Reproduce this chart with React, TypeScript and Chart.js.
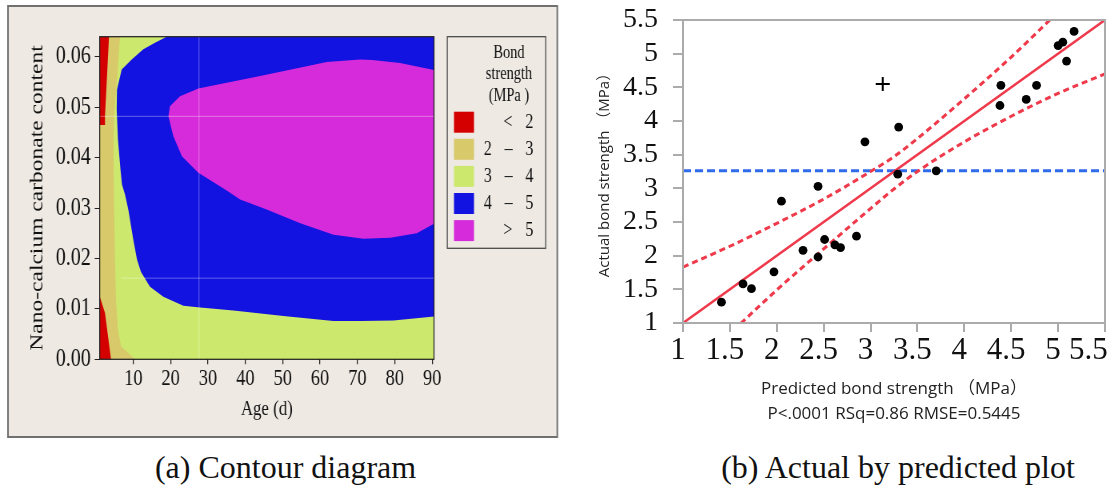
import { useEffect, useRef } from 'react';
import { Chart, registerables } from 'chart.js';

Chart.register(...registerables);

const SERIF = "'Liberation Serif', 'Times New Roman', Times, serif";
const SANS = "'Open Sans', 'Noto Sans CJK SC', sans-serif";

// ---------------- (a) Contour diagram data ----------------
const ageTicks = [10, 20, 30, 40, 50, 60, 70, 80, 90];
const contentTicks = [0, 0.01, 0.02, 0.03, 0.04, 0.05, 0.06];
const ageMin = 1;
const ageMax = 90.5;
const contentMin = 0;
const contentMax = 0.064;

const legendTitle = ['Bond', 'strength', '(MPa )'];
const legendLabels = ['< 2', '2 – 3', '3 – 4', '4 – 5', '> 5'];
const legendColors = ['#D40000', '#D8C96B', '#CDE96D', '#1212E1', '#D62BDA'];

// region outlines as [age (d), nano-CaCO3 content]
const region3to4 = [[1, 0], [90.5, 0], [90.5, 0.064], [1, 0.064]];
const region2to3 = [
  [1, 0.064], [6.44, 0.064], [5.63, 0.0555], [4.83, 0.0482], [4.7, 0.0396], [4.83, 0.0317],
  [5.1, 0.0198], [5.37, 0.0118], [5.9, 0.0058], [6.71, 0.0026], [8.58, 0.0013], [10.46, 0], [1, 0],
];
const regionBelow2Top = [[1, 0.064], [3.49, 0.064], [2.42, 0.0482], [2.42, 0.0465], [1, 0.0465]];
const regionBelow2Bottom = [[1, 0.0125], [2.42, 0.0092], [4.03, 0], [1, 0]];
const region4to5 = [
  [18.95, 0.064], [15.81, 0.0628], [12.68, 0.0615], [9.57, 0.0595], [6.89, 0.0575], [5.63, 0.0535],
  [5.55, 0.0496], [5.9, 0.0435], [6.57, 0.0376], [6.97, 0.0347], [7.78, 0.0327], [8.66, 0.0297],
  [10.0, 0.0237], [10.99, 0.0198], [12.06, 0.0173], [14.47, 0.0144], [18.04, 0.0124], [23.4, 0.0106],
  [27.9, 0.0103], [36.8, 0.0097], [50.2, 0.0086], [63.6, 0.0076], [70.7, 0.0076], [79.6, 0.0077],
  [90.5, 0.0085], [90.5, 0.064],
];
const regionAbove5 = [
  [90.5, 0.0574], [81.4, 0.0588], [74, 0.0594], [70.7, 0.0595], [61.8, 0.059], [44.6, 0.0563],
  [27.4, 0.0537], [22.5, 0.0522], [19.8, 0.0502], [19.4, 0.0482], [20.7, 0.0443], [23.0, 0.0403],
  [27.4, 0.037], [35.0, 0.0335], [38.6, 0.0317], [45.7, 0.0297], [54.7, 0.027], [63.6, 0.0247],
  [71.6, 0.0239], [78.8, 0.0241], [85.9, 0.025], [90.5, 0.0269],
];
const crossLineV = [[27.6, 0], [27.6, 0.064]];
const crossLineH1 = [[1, 0.0482], [90.5, 0.0482]];
const crossLineH2 = [[6.7, 0.0161], [90.5, 0.0161]];

// ---------------- (b) Actual by predicted data ----------------
const predicted = [1.41, 1.64, 1.73, 1.97, 2.05, 2.28, 2.44, 2.44, 2.51, 2.62, 2.68, 2.85, 2.94, 3.29, 3.3, 3.7, 4.38, 4.39, 4.66, 4.77, 5.0, 5.05, 5.09, 5.17];
const actual = [1.31, 1.58, 1.51, 1.76, 2.81, 2.08, 3.03, 1.98, 2.24, 2.16, 2.12, 2.29, 3.69, 3.21, 3.91, 3.26, 4.23, 4.53, 4.32, 4.53, 5.12, 5.17, 4.89, 5.33];
const excludedPredicted = [3.13];
const excludedActual = [4.55];
const fitX = [1, 5.5];
const fitY = [1, 5.5];
const bandX = [1.0, 1.5, 2.0, 2.5, 3.0, 3.25, 3.5, 4.0, 4.5, 5.0, 5.5];
const upperBand = [1.83, 2.14, 2.48, 2.84, 3.25, 3.47, 3.74, 4.33, 4.95, 5.62, 6.3];
const lowerBand = [0.17, 0.84, 1.49, 2.1, 2.7, 2.99, 3.25, 3.69, 4.07, 4.41, 4.7];
const meanX = [1, 5.5];
const meanActual = [3.26, 3.26];
const strengthTicks = [1, 1.5, 2, 2.5, 3, 3.5, 4, 4.5, 5, 5.5];

const toXY = (pts: number[][]) => pts.map(([x, y]) => ({ x, y }));
const zipXY = (xs: number[], ys: number[]) => xs.map((x, i) => ({ x, y: ys[i] }));

const K = 0.8; // horizontal compression of panel (a)
const LEFT_W = 700;
const H = 440;

function ContourChart() {
  const ref = useRef<HTMLCanvasElement>(null);
  useEffect(() => {
    const canvas = ref.current;
    if (!canvas) return;
    const P = (px: number) => px / K;

    const region = (pts: number[][], color: string, order: number) => ({
      data: toXY(pts),
      backgroundColor: color,
      borderColor: 'rgba(0,0,0,0)',
      borderWidth: 0,
      fill: 'shape',
      pointRadius: 0,
      tension: 0,
      order,
    });
    const faint = (pts: number[][]) => ({
      data: toXY(pts),
      borderColor: 'rgba(255,255,255,0.35)',
      borderWidth: 1,
      fill: false,
      pointRadius: 0,
      order: 0,
    });

    const panelPlugin = {
      id: 'panelA',
      beforeDraw(chart: any) {
        const ctx = chart.ctx;
        ctx.save();
        ctx.fillStyle = '#EEE9E3';
        ctx.fillRect(P(8), 6, P(557.3) - P(8), 431);
        ctx.strokeStyle = '#707070';
        ctx.lineWidth = 2;
        ctx.strokeRect(P(8), 6, P(557.3) - P(8), 431);
        ctx.restore();
      },
      afterDatasetsDraw(chart: any) {
        const { left, top, right, bottom } = chart.chartArea;
        const ctx = chart.ctx;
        ctx.save();
        ctx.strokeStyle = '#222';
        ctx.lineWidth = 1.25;
        ctx.strokeRect(left, top, right - left, bottom - top);
        ctx.restore();
      },
      afterDraw(chart: any) {
        const ctx = chart.ctx;
        ctx.save();
        const x0 = P(447.3);
        const x1 = P(545.7);
        ctx.strokeStyle = '#444';
        ctx.lineWidth = 1.25;
        ctx.strokeRect(x0, 36.7, x1 - x0, 248.3 - 36.7);
        ctx.fillStyle = '#111';
        ctx.font = `18px ${SERIF}`;
        ctx.textAlign = 'center';
        ctx.textBaseline = 'middle';
        const titleY = [53, 74, 96];
        legendTitle.forEach((t, i) => ctx.fillText(t, P(509), titleY[i]));
        ctx.textAlign = 'right';
        ctx.font = `20px ${SERIF}`;
        (ctx as any).letterSpacing = '5.5px';
        legendLabels.forEach((t, i) => {
          const y = 111.7 + i * 27.1;
          ctx.fillStyle = legendColors[i];
          ctx.fillRect(P(454), y, P(474) - P(454), 21);
          ctx.fillStyle = '#111';
          ctx.fillText(t, P(533.3) + 5.5, y + 11);
        });
        ctx.restore();
      },
    };

    const chart = new Chart(canvas, {
      type: 'line',
      data: {
        datasets: [
          region(region3to4, legendColors[2], 6),
          region(region2to3, legendColors[1], 5),
          region(regionBelow2Top, legendColors[0], 4),
          region(regionBelow2Bottom, legendColors[0], 4),
          region(region4to5, legendColors[3], 3),
          region(regionAbove5, legendColors[4], 2),
          faint(crossLineV),
          faint(crossLineH1),
          faint(crossLineH2),
        ] as any,
      },
      options: {
        animation: false,
        responsive: false,
        maintainAspectRatio: false,
        devicePixelRatio: 1,
        layout: { padding: { left: 0, top: 36.7, right: LEFT_W - P(434), bottom: 0 } },
        plugins: { legend: { display: false }, tooltip: { enabled: false } },
        scales: {
          x: {
            type: 'linear',
            min: ageMin,
            max: ageMax,
            afterBuildTicks: (s: any) => { s.ticks = ageTicks.map((v) => ({ value: v })); },
            afterFit: (s: any) => { s.height = H - 359.3; s.paddingLeft = 0; s.paddingRight = 0; },
            grid: { display: true, drawOnChartArea: false, drawTicks: true, tickLength: 5, color: '#222', lineWidth: 1.25 },
            border: { display: false },
            ticks: { font: { family: SERIF, size: 23 }, color: '#111', padding: 1, maxRotation: 0, autoSkip: false },
            title: { display: true, text: 'Age (d)', font: { family: SERIF, size: 21 }, color: '#111', padding: { top: 0, bottom: 17.7 } },
          },
          y: {
            type: 'linear',
            min: contentMin,
            max: contentMax,
            afterBuildTicks: (s: any) => { s.ticks = contentTicks.map((v) => ({ value: v })); },
            afterFit: (s: any) => { s.width = P(99.7); s.paddingTop = 0; s.paddingBottom = 0; },
            grid: { display: true, drawOnChartArea: false, drawTicks: true, tickLength: 6.25, color: '#222', lineWidth: 1 },
            border: { display: false },
            ticks: { font: { family: SERIF, size: 25 }, color: '#111', padding: 5, autoSkip: false, callback: (v: any) => Number(v).toFixed(2) },
            title: { display: true, text: 'Nano-calcium carbonate content', font: { family: SERIF, size: 23.5 }, color: '#111', padding: { top: 32.8, bottom: 0 } },
          },
        },
      } as any,
      plugins: [panelPlugin],
    });
    return () => chart.destroy();
  }, []);
  return (
    <canvas
      ref={ref}
      width={LEFT_W}
      height={H}
      style={{ position: 'absolute', left: 0, top: 0, width: `${LEFT_W}px`, height: `${H}px`, transform: `scaleX(${K})`, transformOrigin: '0 0' }}
    />
  );
}

const RIGHT_X = 560;
const RIGHT_W = 554;

function ActualByPredicted() {
  const ref = useRef<HTMLCanvasElement>(null);
  useEffect(() => {
    const canvas = ref.current;
    if (!canvas) return;
    const RED = '#EF3A4C';
    const frame = {
      id: 'frameB',
      afterDatasetsDraw(chart: any) {
        const { left, top, right, bottom } = chart.chartArea;
        const ctx = chart.ctx;
        ctx.save();
        ctx.strokeStyle = '#ABABAB';
        ctx.lineWidth = 2;
        ctx.strokeRect(left, top, right - left, bottom - top);
        ctx.restore();
      },
    };
    const chart = new Chart(canvas, {
      type: 'line',
      data: {
        datasets: [
          { data: zipXY(predicted, actual), showLine: false, pointRadius: 4.4, pointBackgroundColor: '#000', pointBorderWidth: 0, order: 0 },
          { data: zipXY(excludedPredicted, excludedActual), showLine: false, pointStyle: 'cross', pointRadius: 7, pointBorderColor: '#000', pointBorderWidth: 2, order: 0 },
          { data: zipXY(fitX, fitY), borderColor: RED, borderWidth: 2.5, pointRadius: 0, fill: false, order: 1 },
          { data: zipXY(bandX, upperBand), borderColor: RED, borderWidth: 3, borderDash: [6, 4], pointRadius: 0, fill: false, cubicInterpolationMode: 'monotone', order: 2 },
          { data: zipXY(bandX, lowerBand), borderColor: RED, borderWidth: 3, borderDash: [6, 4], pointRadius: 0, fill: false, cubicInterpolationMode: 'monotone', order: 2 },
          { data: zipXY(meanX, meanActual), borderColor: '#2F6BEB', borderWidth: 3, borderDash: [8, 4], pointRadius: 0, fill: false, order: 3 },
        ] as any,
      },
      options: {
        animation: false,
        responsive: false,
        maintainAspectRatio: false,
        devicePixelRatio: 1,
        layout: { padding: { left: 0, top: 20, right: RIGHT_W - (1107 - RIGHT_X), bottom: 0 } },
        plugins: { legend: { display: false }, tooltip: { enabled: false } },
        scales: {
          x: {
            type: 'linear',
            min: 1,
            max: 5.5,
            afterBuildTicks: (s: any) => { s.ticks = strengthTicks.map((v) => ({ value: v })); },
            afterFit: (s: any) => { s.height = H - 323; s.paddingLeft = 0; s.paddingRight = 0; },
            grid: { display: true, drawOnChartArea: false, drawTicks: true, tickLength: 9, color: '#ABABAB', lineWidth: 2 },
            border: { display: false },
            ticks: {
              font: { family: SERIF, size: 31 }, color: '#111', padding: 0, labelOffset: -5, maxRotation: 0, autoSkip: false,
              callback: (v: any, i: number, ticks: any[]) => (i === ticks.length - 1 ? `${v}   ` : `${v}`),
            },
            title: {
              display: true,
              text: ['Predicted bond strength （MPa）', 'P<.0001 RSq=0.86 RMSE=0.5445'],
              font: { family: SANS, size: 17, lineHeight: 1.45 },
              color: '#222',
              padding: { top: 0, bottom: 13.7 },
            },
          },
          y: {
            type: 'linear',
            min: 1,
            max: 5.5,
            afterBuildTicks: (s: any) => { s.ticks = strengthTicks.map((v) => ({ value: v })); },
            afterFit: (s: any) => { s.width = 683 - RIGHT_X; s.paddingTop = 0; s.paddingBottom = 0; },
            grid: { display: true, drawOnChartArea: false, drawTicks: true, tickLength: 10, color: '#ABABAB', lineWidth: 2 },
            border: { display: false },
            ticks: { font: { family: SERIF, size: 28 }, color: '#111', padding: 15, autoSkip: false, callback: (v: any) => `${v}` },
            title: { display: true, text: 'Actual bond strength （MPa）', font: { family: SANS, size: 15 }, color: '#222', padding: { top: 36, bottom: 0 } },
          },
        },
      } as any,
      plugins: [frame],
    });
    return () => chart.destroy();
  }, []);
  return (
    <canvas
      ref={ref}
      width={RIGHT_W}
      height={H}
      style={{ position: 'absolute', left: `${RIGHT_X}px`, top: 0, width: `${RIGHT_W}px`, height: `${H}px` }}
    />
  );
}

const captionStyle = (center: number): any => ({
  position: 'absolute',
  left: `${center - 250}px`,
  top: '449px',
  width: '500px',
  textAlign: 'center',
  fontFamily: SERIF,
  fontSize: '32px',
  lineHeight: '36px',
  color: '#111',
  whiteSpace: 'nowrap',
});

export default function App() {
  return (
    <div>
      <ContourChart />
      <ActualByPredicted />
      <div style={captionStyle(285.5)}>(a) Contour diagram</div>
      <div style={captionStyle(898)}>(b) Actual by predicted plot</div>
    </div>
  );
}
